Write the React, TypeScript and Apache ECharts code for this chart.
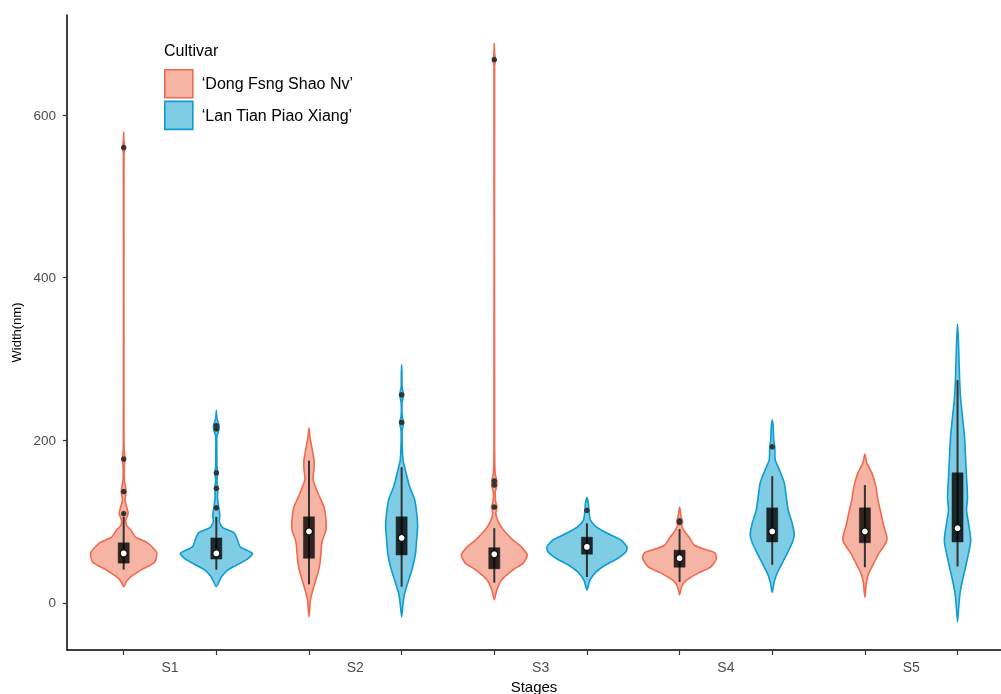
import React, { useEffect, useRef } from "react";
import * as echarts from "echarts";

// ---------- data ----------
const stages = ["S1", "S2", "S3", "S4", "S5"];
const cultivars = ["‘Dong Fsng Shao Nv’", "‘Lan Tian Piao Xiang’"];
const yTickValues = [0, 200, 400, 600];

// violin outlines: [value, density] from top to bottom (density = relative half width)
const densDong_S1 = [[579, 0], [568, 0.3], [560, 1.2], [552, 0.3], [200, 0.3], [186, 0.6], [177, 1.5], [168, 0.6], [150, 0.8], [137, 2.5], [127, 1.3], [118, 3], [110, 4.5], [102, 2.2], [95, 3], [90, 7], [81, 12], [74, 24], [62, 33], [50, 31], [41, 18], [33, 8], [27, 3], [20, 0]];
const densDong_S2 = [[215, 0], [204, 1], [176, 5], [164, 5], [152, 4], [135, 9], [118, 15], [102, 17], [90, 17], [75, 13], [62, 12], [49, 11], [37, 9], [25, 6], [12, 3], [4, 1.5], [-17, 0]];
const densDong_S3 = [[688, 0], [676, 0.3], [668, 1.2], [660, 0.3], [200, 0.3], [160, 0.8], [150, 2.5], [144, 2.5], [137, 1], [125, 1.3], [118, 2.8], [110, 1.5], [100, 4], [90, 9], [77, 19], [69, 27], [59, 33], [49, 29], [41, 19], [28, 7], [16, 2.5], [4, 0]];
const densDong_S4 = [[118, 0], [110, 1], [104, 2], [100, 3], [96, 2], [90, 4], [80, 10], [71, 15], [66, 25], [62, 35], [55, 37], [44, 31], [37, 19], [28, 7], [20, 2], [10, 0]];
const densDong_S5 = [[183, 0], [172, 2], [160, 7], [143, 11], [127, 13], [111, 16], [94, 19], [81, 22], [74, 21], [61, 14], [49, 9], [37, 4], [25, 1.5], [7, 0]];

const densLan_S1 = [[237, 0], [228, 0.5], [218, 2.8], [214, 2.8], [205, 0.6], [185, 0.5], [168, 0.6], [160, 1.5], [151, 0.6], [141, 1.5], [130, 1.2], [117, 2.5], [108, 3.5], [100, 3], [93, 6], [86, 18], [78, 21], [69, 24], [61, 36], [55, 32], [49, 24], [41, 12], [32, 5], [20, 0]];
const densLan_S2 = [[293, 0], [283, 0.3], [265, 0.5], [256, 2], [247, 0.5], [230, 0.5], [222, 2], [212, 0.5], [190, 0.7], [175, 1.5], [167, 3], [143, 8], [127, 13], [111, 15], [94, 16], [78, 15], [62, 14], [44, 11], [28, 7], [12, 3], [0, 1.5], [-17, 0]];
const densLan_S3 = [[130, 0], [122, 1.5], [114, 2], [108, 2.5], [102, 3.5], [94, 9], [86, 20], [77.5, 34], [69, 40], [63, 39], [55, 31], [47, 19], [38, 9], [28, 3], [16, 0]];
const densLan_S4 = [[225, 0], [216, 1], [200, 1.5], [192, 2.5], [176, 3], [164, 7], [148, 12], [131, 14], [114, 16], [98, 20], [84, 22], [74, 20], [61, 15], [49, 10], [37, 5], [26, 2], [13, 0]];
const densLan_S5 = [[343, 0], [319, 1], [278, 2], [253, 3], [229, 5], [204, 7], [180, 8], [155, 9], [130, 10], [114, 9], [98, 11], [81, 13], [74, 13], [61, 11], [44, 8], [28, 5], [12, 2.5], [-5, 1.2], [-23, 0]];

// box stats: [lowWhisker, q1, median, q3, highWhisker]
const boxDong = [[41, 49, 61, 74, 106], [23, 55, 88, 106, 175], [25, 42, 60, 68, 92], [26, 44, 55, 65, 91], [44, 74, 88, 117, 145]];
const boxLan = [[41, 54, 61, 80, 106], [20, 59, 80, 106, 167], [32, 60, 69, 81, 98], [47, 75, 88, 117, 156], [45, 75, 92, 160, 274]];

// outliers per stage
const outDong = [[560, 177, 137, 110], [], [668, 150, 145, 118], [101, 99], []];
const outLan = [[218, 214, 160, 141, 117], [256, 222], [114], [192], []];

// ---------- style constants ----------
const DODGE = 0.25;
const DENS_TO_X = 1 / 185.3;
const BOX_W = 0.06;
const fills = ["#F6B4A5", "#7ECDE4"];
const strokes = ["#EF6A4F", "#0E9CD2"];

const densities = [
  [densDong_S1, densDong_S2, densDong_S3, densDong_S4, densDong_S5],
  [densLan_S1, densLan_S2, densLan_S3, densLan_S4, densLan_S5],
];
const boxes = [boxDong, boxLan];
const outliers = [outDong, outLan];

function makeRenderItem(c: number) {
  return (params: any, api: any) => {
    const i = params.dataIndex;
    const xc = i + 1 + (c === 0 ? -DODGE : DODGE);
    const prof = densities[c][i];
    const right: number[][] = [];
    const left: number[][] = [];
    prof.forEach(([v, d], k) => {
      const p = api.coord([xc, v]);
      const w = api.size([d * DENS_TO_X, 0])[0];
      right.push([p[0] + w, p[1]]);
      if (k !== 0 && k !== prof.length - 1) left.push([p[0] - w, p[1]]);
    });
    const pts = right.concat(left.reverse());
    const b = boxes[c][i];
    const lo = api.coord([xc, b[0]]);
    const q1 = api.coord([xc, b[1]]);
    const q3 = api.coord([xc, b[3]]);
    const hi = api.coord([xc, b[4]]);
    const bw = api.size([BOX_W, 0])[0];
    return {
      type: "group",
      children: [
        {
          type: "polygon",
          shape: { points: pts, smooth: 0.2 },
          style: { fill: fills[c], stroke: strokes[c], lineWidth: 1.6, lineJoin: "round" },
        },
        {
          type: "line",
          shape: { x1: lo[0], y1: lo[1], x2: hi[0], y2: hi[1] },
          style: { stroke: "#333333", lineWidth: 2 },
        },
        {
          type: "rect",
          shape: { x: q3[0] - bw / 2, y: q3[1], width: bw, height: q1[1] - q3[1] },
          style: { fill: "rgba(0,0,0,0.8)", stroke: "rgba(30,30,30,0.9)", lineWidth: 0.5 },
        },
      ],
    };
  };
}

function outlierData(): number[][] {
  const res: number[][] = [];
  outliers.forEach((arr, c) =>
    arr.forEach((vals, i) => vals.forEach((v) => res.push([i + 1 + (c === 0 ? -DODGE : DODGE), v])))
  );
  return res;
}
function medianData(): number[][] {
  const res: number[][] = [];
  boxes.forEach((arr, c) => arr.forEach((b, i) => res.push([i + 1 + (c === 0 ? -DODGE : DODGE), b[2]])));
  return res;
}

const xTickValues: number[] = [];
stages.forEach((_, i) => {
  xTickValues.push(i + 1 - DODGE, i + 1 + DODGE);
});

export default function App() {
  const ref = useRef<HTMLDivElement>(null);
  useEffect(() => {
    if (!ref.current) return;
    const chart = echarts.init(ref.current, undefined, { renderer: "svg" });
    const font = "Liberation Sans, Arial, Helvetica, sans-serif";
    chart.setOption({
      animation: false,
      textStyle: { fontFamily: font },
      grid: { left: 67, right: 0, top: 15, bottom: 44, containLabel: false, outerBoundsMode: "none" },
      title: {
        text: "Cultivar",
        left: 164,
        top: 42,
        textStyle: { fontSize: 16, fontWeight: "normal", color: "#000", fontFamily: font },
        padding: 0,
      },
      legend: {
        orient: "vertical",
        left: 164,
        top: 69,
        itemWidth: 28,
        itemHeight: 28,
        itemGap: 2,
        padding: 0,
        selectedMode: false,
        textStyle: { fontSize: 16, color: "#000", fontFamily: font, padding: [0, 0, 0, 4] },
        data: cultivars.map((n, c) => ({
          name: n,
          icon: "rect",
          itemStyle: { color: fills[c], borderColor: strokes[c], borderWidth: 1.6 },
        })),
      },
      xAxis: {
        type: "value",
        min: 0.4441,
        max: 5.4846,
        name: "Stages",
        nameLocation: "middle",
        nameGap: 28,
        nameTextStyle: { fontSize: 15, color: "#000" },
        splitLine: { show: false },
        axisLine: { show: true, onZero: false, lineStyle: { color: "#000", width: 1.5 } },
        axisTick: { show: true, length: 5, customValues: xTickValues, lineStyle: { color: "#333", width: 1.2 } },
        axisLabel: {
          customValues: stages.map((_, i) => i + 1),
          formatter: (v: number) => stages[Math.round(v) - 1] ?? "",
          fontSize: 14,
          color: "#4D4D4D",
          margin: 10,
        },
      },
      yAxis: {
        type: "value",
        min: -57.8,
        max: 723,
        name: "Width(nm)",
        nameLocation: "middle",
        nameGap: 43,
        nameTextStyle: { fontSize: 13, color: "#000" },
        splitLine: { show: false },
        axisLine: { show: true, onZero: false, lineStyle: { color: "#000", width: 1.5 } },
        axisTick: { show: true, length: 4, customValues: yTickValues, lineStyle: { color: "#333", width: 1.2 } },
        axisLabel: { customValues: yTickValues, fontSize: 13.5, color: "#4D4D4D", margin: 11 },
      },
      series: [
        ...cultivars.map((name, c) => ({
          type: "custom",
          name,
          coordinateSystem: "cartesian2d",
          renderItem: makeRenderItem(c),
          itemStyle: { color: fills[c], borderColor: strokes[c] },
          data: stages.map((_, i) => [i + 1, 0]),
          z: 2,
        })),
        {
          type: "scatter",
          name: "outliers",
          data: outlierData(),
          symbolSize: 5.5,
          itemStyle: { color: "#333333", opacity: 1 },
          z: 5,
        },
        {
          type: "scatter",
          name: "median",
          data: medianData(),
          symbolSize: 7,
          itemStyle: { color: "#ffffff", borderColor: "#111", borderWidth: 1.2, opacity: 1 },
          z: 6,
        },
      ],
    });
    return () => chart.dispose();
  }, []);
  return <div ref={ref} style={{ position: "fixed", left: 0, top: 0, width: 1001, height: 694 }} />;
}
